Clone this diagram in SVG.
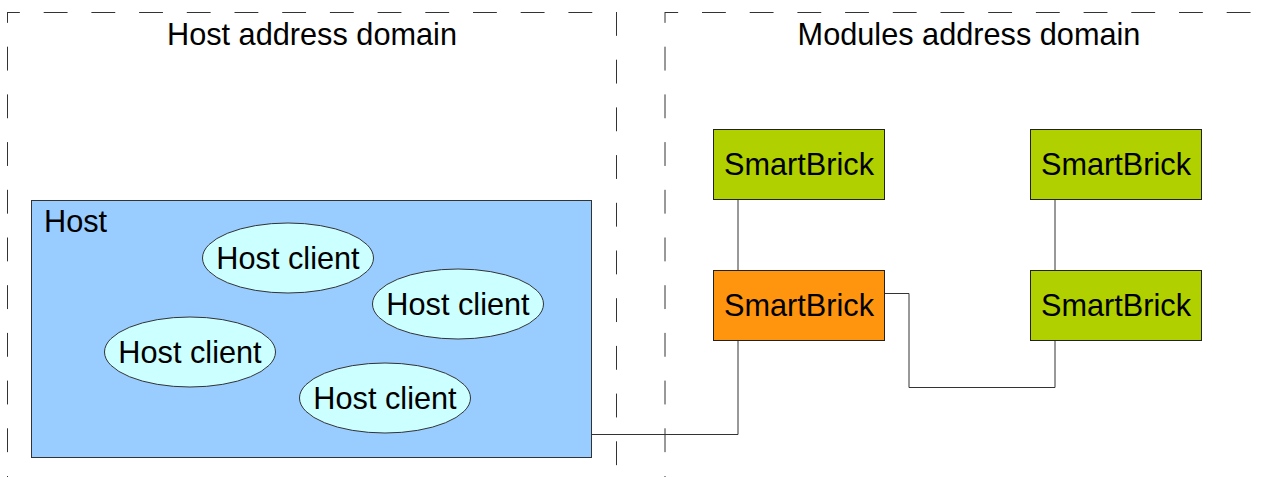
<svg xmlns="http://www.w3.org/2000/svg" width="1267" height="477" viewBox="0 0 1267 477">
<style>
text{font-family:"Liberation Sans",Arial,sans-serif;font-size:30.7px;fill:#000}
.dash{fill:none;stroke:#333;stroke-width:1;stroke-dasharray:23.85 23.85}
.brick{stroke:#222;stroke-width:1}
.green{fill:#b0d000}
.orange{fill:#ff950e}
.client{fill:#ccffff;stroke:#333;stroke-width:1}
.conn{fill:none;stroke:#333;stroke-width:1}
</style>
<g id="host-domain">
<line class="dash" x1="7" y1="12.5" x2="616" y2="12.5" stroke-dashoffset="11"/>
<line class="dash" x1="7.5" y1="12" x2="7.5" y2="477" stroke-dashoffset="13"/>
<line class="dash" x1="616.5" y1="12" x2="616.5" y2="477"/>
<text x="312" y="45" text-anchor="middle">Host address domain</text>
</g>
<g id="modules-domain">
<line class="dash" x1="665" y1="12.5" x2="1267" y2="12.5" stroke-dashoffset="10.7"/>
<line class="dash" x1="665" y1="12" x2="665" y2="477" stroke-dashoffset="13"/>
<text x="969" y="45" text-anchor="middle">Modules address domain</text>
</g>
<g id="connectors">
<polyline class="conn" points="738,199.5 738,270.5"/>
<polyline class="conn" points="1055,199.5 1055,270.5"/>
<polyline class="conn" points="884.5,293.5 909,293.5 909,387.5 1055,387.5 1055,340.5"/>
<polyline class="conn" points="591.5,434.5 738,434.5 738,340.5"/>
</g>
<g id="host">
<rect x="31.5" y="200.5" width="560" height="257" fill="#99ccff" stroke="#333" stroke-width="1"/>
<text x="44" y="232">Host</text>
</g>
<g id="client1">
<ellipse class="client" cx="288" cy="258" rx="85.5" ry="35"/>
<text x="288" y="269" text-anchor="middle">Host client</text>
</g>
<g id="client2">
<ellipse class="client" cx="458" cy="304" rx="85.5" ry="35"/>
<text x="458" y="315" text-anchor="middle">Host client</text>
</g>
<g id="client3">
<ellipse class="client" cx="190" cy="352" rx="85.5" ry="35"/>
<text x="190" y="363" text-anchor="middle">Host client</text>
</g>
<g id="client4">
<ellipse class="client" cx="385" cy="398" rx="85.5" ry="35"/>
<text x="385" y="409" text-anchor="middle">Host client</text>
</g>
<g id="brick-tl">
<rect class="brick green" x="713.5" y="129.5" width="171" height="70"/>
<text x="799" y="175" text-anchor="middle">SmartBrick</text>
</g>
<g id="brick-tr">
<rect class="brick green" x="1030.5" y="129.5" width="171" height="70"/>
<text x="1116" y="175" text-anchor="middle">SmartBrick</text>
</g>
<g id="brick-ml">
<rect class="brick orange" x="713.5" y="270.5" width="171" height="70"/>
<text x="799" y="316" text-anchor="middle">SmartBrick</text>
</g>
<g id="brick-mr">
<rect class="brick green" x="1030.5" y="270.5" width="171" height="70"/>
<text x="1116" y="316" text-anchor="middle">SmartBrick</text>
</g>
</svg>
